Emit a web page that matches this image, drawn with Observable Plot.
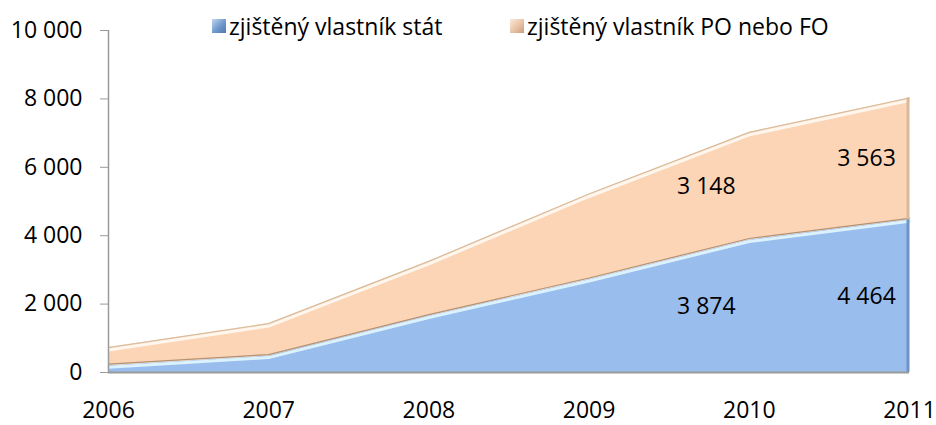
<!DOCTYPE html>
<html>
<head>
<meta charset="utf-8">
<script src="https://cdn.jsdelivr.net/npm/d3@7"></script>
<script src="https://cdn.jsdelivr.net/npm/@observablehq/plot@0.6"></script>
<style>
  html, body { margin: 0; padding: 0; background: #fff; }
  #wrap { position: relative; width: 936px; height: 425px; font-family: "Open Sans", sans-serif; }
  .item { position: absolute; top: 10px; display: flex; align-items: center; font-size: 23px; color: #000; white-space: nowrap; }
  .sw { width: 14px; height: 14px; margin-right: 3px; box-sizing: border-box; }
</style>
</head>
<body>
<div id="wrap"></div>
<script>
const years = [2006, 2007, 2008, 2009, 2010, 2011];
const stat = [200, 480, 1650, 2720, 3874, 4464];
const poFo = [530, 950, 1600, 2500, 3148, 3563];
const seriesNames = ["zjištěný vlastník stát", "zjištěný vlastník PO nebo FO"];
const seriesColors = ["#99bdec", "#fbd5b5"];
const swatchGradients = [
  "linear-gradient(135deg, #c0d6f0 0%, #6f98cc 55%, #4f78b0 100%)",
  "linear-gradient(135deg, #fbe9da 0%, #e7c3a6 55%, #c99d7c 100%)"
];
const labelYears = [2010, 2011];
const yTicks = [0, 2000, 4000, 6000, 8000, 10000];

const fmt = v => String(v).replace(/\B(?=(\d{3})+(?!\d))/g, " ");

const rows = years.flatMap((yr, i) => [
  {year: yr, series: seriesNames[0], value: stat[i]},
  {year: yr, series: seriesNames[1], value: poFo[i]}
]);
const totals = years.map((yr, i) => ({year: yr, stat: stat[i], total: stat[i] + poFo[i]}));
const last = totals[totals.length - 1];

const chart = Plot.plot({
  width: 936,
  height: 425,
  marginLeft: 108,
  marginRight: 27,
  marginTop: 30,
  marginBottom: 53,
  style: {fontFamily: "Open Sans, sans-serif", fontSize: "23px", color: "#000", background: "transparent"},
  x: {type: "linear", domain: [years[0], years[years.length - 1]]},
  y: {domain: [yTicks[0], yTicks[yTicks.length - 1]]},
  color: {domain: seriesNames, range: seriesColors},
  marks: [
    Plot.areaY(rows, {x: "year", y: "value", z: "series", fill: "series"}),
    // 3D-ish edges
    Plot.lineY(totals, {x: "year", y: "total", stroke: "#d6bea2", strokeWidth: 1.2}),
    Plot.lineY(totals, {x: "year", y: "total", stroke: "#fff7ee", strokeWidth: 3, dy: 2.5}),
    Plot.lineY(totals, {x: "year", y: "stat", stroke: "#b39277", strokeWidth: 1.2, dy: -1.5}),
    Plot.lineY(totals, {x: "year", y: "stat", stroke: "#dcf2ff", strokeWidth: 3, dy: 1.5}),
    Plot.ruleX([last], {x: "year", y1: "stat", y2: "total", stroke: "#d9b89b", strokeWidth: 3, dx: -1.5}),
    Plot.ruleX([last], {x: "year", y1: 0, y2: "stat", stroke: "#6f94c4", strokeWidth: 3, dx: -1.5}),
    // axes
    Plot.ruleY([yTicks[0]], {stroke: "#9a9a9a", strokeWidth: 2}),
    Plot.ruleX([years[0]], {y1: yTicks[0], y2: yTicks[yTicks.length - 1], stroke: "#9a9a9a", strokeWidth: 1.5}),
    Plot.axisY({ticks: yTicks, tickFormat: fmt, tickSize: 8, tickPadding: 18, stroke: "#9a9a9a", label: null, fontSize: 23}),
    Plot.axisX({ticks: years, tickFormat: d => String(d), tickSize: 0, tickPadding: 29, label: null, fontSize: 23}),
    // value labels
    Plot.text(rows.filter(d => labelYears.includes(d.year)), Plot.stackY({
      x: "year", y: "value", z: "series", text: d => fmt(d.value), dx: -43, fill: "#000", fontSize: 23
    }))
  ]
});
const wrap = document.getElementById("wrap");
wrap.appendChild(chart);

const legendLeft = [212, 510];
seriesNames.forEach((name, i) => {
  const item = document.createElement("div");
  item.className = "item";
  item.style.left = legendLeft[i] + "px";
  const sw = document.createElement("div");
  sw.className = "sw";
  sw.style.background = swatchGradients[i];
  const t = document.createElement("span");
  t.textContent = name;
  item.appendChild(sw);
  item.appendChild(t);
  wrap.appendChild(item);
});
</script>
</body>
</html>
